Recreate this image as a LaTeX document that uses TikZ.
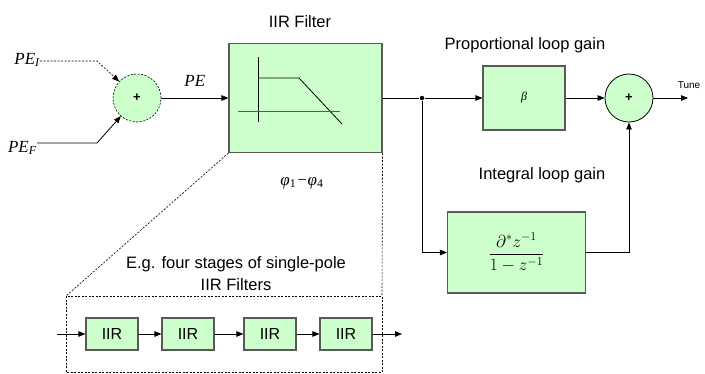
\documentclass[tikz,border=0pt]{standalone}
\usepackage{fontspec}
\setmainfont{Liberation Sans}
\newfontfamily\tms{Liberation Serif}
\usetikzlibrary{arrows.meta}
\definecolor{iirgreen}{HTML}{CCFFCC}

\begin{document}
\begin{tikzpicture}
  [x=1pt,y=-1pt,>={Triangle[length=7pt,width=5.5pt]},line width=0.8pt,
   blk/.style={draw=black!65,fill=iirgreen,line width=1.1pt,inner sep=0pt},
   adder/.style={draw,circle,fill=iirgreen,minimum size=48pt,inner sep=0pt,
     font=\fontsize{13}{13}\selectfont\bfseries},
   txt/.style={font=\fontsize{16.5}{22}\selectfont,align=center},
   sig/.style={font=\fontsize{17}{17}\selectfont\tms\itshape,inner sep=0pt},
   dsh/.style={dash pattern=on 2pt off 1.5pt,line width=0.6pt}]
  \useasboundingbox (0,0) rectangle (705,373);

  % inputs and phase error sum
  \node[sig,anchor=base east] (pei) at (40,64)  {PE\textsubscript{I}};
  \node[sig,anchor=base east] (pef) at (37,152) {PE\textsubscript{F}};
  \node[adder,dsh,draw=black] (add1) at (137,98) {+};
  \coordinate (bi) at (97,61);
  \coordinate (bf) at (97,143);
  \draw[dsh,->] (bi -| pei.east) -- (bi) -- (add1);
  \draw[->] (bf -| pef.east) -- (bf) -- (add1);

  % loop filter
  \node[blk,minimum width=153,minimum height=109] (filt) at (305.5,98) {};
  \node[txt] (ftitle) at (300,22) {IIR Filter};
  \node[sig] (phi) at (302,183) {φ\textsubscript{\upshape 1}−φ\textsubscript{\upshape 4}};
  \draw (258,57) -- (258,122);
  \draw (258,78) -- (299,78) -- (342,124);
  \draw[black!65] (238,111) -- (340,111);
  \draw[->] (add1) -- node[sig,above=11pt] {PE} (filt);

  % proportional and integral paths
  \node[circle,fill,inner sep=0pt,minimum size=4.5pt] (split) at (422,98) {};
  \node[blk,minimum width=82,minimum height=64,
    font=\fontsize{12}{12}\selectfont\tms\itshape] (beta) at (524,98) {β};
  \node[blk,minimum width=138,minimum height=81,font=\fontsize{17}{17}\selectfont]
    (integ) at (516.5,252.5) {$\displaystyle\frac{\partial^{*}z^{-1}}{1-z^{-1}}$};
  \node[adder] (add2) at (629,98) {+};
  \coordinate (tune) at (688,98);
  \node[txt] (plabel) at (525,45) {Proportional loop gain};
  \node[txt] (ilabel) at (542,175) {Integral loop gain};
  \draw (filt) -- (split);
  \draw[->] (split) -- (beta);
  \draw[->] (beta) -- (add2);
  \draw[->] (add2) -- (tune)
    node[pos=1,above=6pt,xshift=1pt,font=\fontsize{10}{10}\selectfont] {Tune};
  \draw[->] (split) |- (integ);
  \draw[->] (integ) -| (add2);

  % zoom on the filter: four single-pole stages
  \coordinate (zl) at (66,296);
  \coordinate (zr) at (382,372);
  \draw[dsh] (zl) rectangle (zr);
  \draw[dsh] (filt.south west) -- (zl);
  \draw[dsh] (filt.south east) -- (zl -| zr);
  \node[txt] (eg) at (236,274) {E.g. four stages of single-pole\\IIR Filters};
  \foreach \i/\x in {1/112,2/188,3/270,4/346}
    \node[blk,minimum width=52,minimum height=32,font=\fontsize{16}{16}\selectfont]
      (iir\i) at (\x,334) {IIR};
  \coordinate (cin) at (57,334);
  \coordinate (cout) at (402,334);
  \foreach \from/\to in {cin/iir1,iir1/iir2,iir2/iir3,iir3/iir4,iir4/cout}
    \draw[->] (\from) -- (\to);
\end{tikzpicture}
\end{document}
